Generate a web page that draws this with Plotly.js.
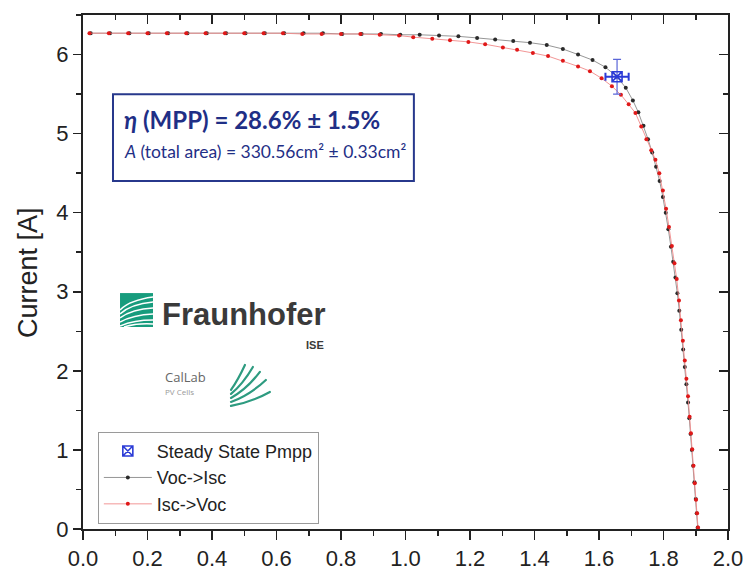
<!DOCTYPE html>
<html><head><meta charset="utf-8">
<script src="https://cdn.plot.ly/plotly-3.0.1.min.js"></script>
<style>html,body{margin:0;padding:0;background:#fff}#chart{width:749px;height:574px}</style>
</head><body><div id="chart"></div>
<script>
// Voc->Isc sweep (black)
const vocIscV = [0.024,0.084,0.144,0.204,0.264,0.324,0.384,0.444,0.504,0.564,0.624,0.684,0.744,0.804,0.864,0.924,0.984,1.044,1.104,1.164,1.222,1.278,1.334,1.386,1.438,1.488,1.535,1.580,1.620,1.655,1.683,1.705,1.722,1.738,1.752,1.765,1.777,1.788,1.798,1.807,1.815,1.823,1.830,1.837,1.843,1.849,1.855,1.861,1.866,1.871,1.876,1.880,1.884,1.888,1.892,1.896,1.900,1.903,1.906];
const vocIscI = [6.27,6.27,6.27,6.27,6.27,6.27,6.27,6.27,6.27,6.27,6.27,6.27,6.27,6.26,6.26,6.26,6.25,6.25,6.24,6.23,6.21,6.19,6.17,6.15,6.12,6.07,6.00,5.93,5.84,5.72,5.58,5.42,5.27,5.10,4.93,4.76,4.58,4.40,4.20,4.00,3.79,3.57,3.38,3.18,2.98,2.76,2.52,2.27,2.05,1.83,1.60,1.40,1.20,1.00,0.80,0.59,0.38,0.20,0.02];
// Isc->Voc sweep (red)
const iscVocV = [0.020,0.080,0.140,0.200,0.260,0.320,0.380,0.440,0.500,0.560,0.620,0.680,0.740,0.800,0.860,0.920,0.980,1.024,1.083,1.138,1.195,1.247,1.302,1.346,1.395,1.442,1.488,1.535,1.572,1.608,1.640,1.668,1.692,1.713,1.731,1.747,1.762,1.775,1.787,1.798,1.808,1.817,1.826,1.834,1.841,1.848,1.854,1.860,1.866,1.871,1.876,1.881,1.885,1.889,1.893,1.897,1.901,1.904,1.907];
const iscVocI = [6.27,6.27,6.27,6.27,6.27,6.27,6.27,6.27,6.27,6.27,6.27,6.26,6.26,6.26,6.26,6.25,6.24,6.22,6.20,6.18,6.16,6.13,6.09,6.06,6.02,5.98,5.92,5.85,5.79,5.70,5.60,5.49,5.37,5.26,5.09,4.93,4.79,4.67,4.50,4.28,4.05,3.82,3.58,3.36,3.16,2.89,2.64,2.38,2.13,1.90,1.68,1.42,1.21,1.01,0.80,0.58,0.37,0.20,0.02];
// Steady state MPP
const mppV = [1.656];
const mppI = [5.72];
const mppVerr = [0.036];
const mppIerr = [0.22];

const xTicks = [0,0.2,0.4,0.6,0.8,1.0,1.2,1.4,1.6,1.8,2.0];
const xTickText = ['0.0','0.2','0.4','0.6','0.8','1.0','1.2','1.4','1.6','1.8','2.0'];
const yTicks = [0,1,2,3,4,5,6];

const AF = 'Liberation Sans, Arial, sans-serif';

const traces = [
  {x: vocIscV, y: vocIscI, name: 'Voc->Isc', mode: 'lines+markers', legendrank: 2,
   line: {color: '#8a8a8a', width: 0.9}, marker: {color: '#2a2a2a', size: 4}},
  {x: iscVocV, y: iscVocI, name: 'Isc->Voc', mode: 'lines+markers', legendrank: 3,
   line: {color: '#f08a8a', width: 0.9}, marker: {color: '#e01818', size: 4}},
  {x: mppV, y: mppI, name: 'Steady State Pmpp', mode: 'markers', legendrank: 1,
   marker: {symbol: 'square-x-open', size: 10, color: '#2b3bd6', line: {width: 1.6, color: '#2b3bd6'}},
   error_x: {type: 'data', array: mppVerr, color: '#2b3bd6', thickness: 2, width: 4},
   error_y: {type: 'data', array: mppIerr, color: '#5a66d8', thickness: 1.2, width: 4}},
  {x: iscVocV, y: iscVocI, xaxis: 'x2', yaxis: 'y2', mode: 'markers', marker: {opacity: 0},
   showlegend: false, hoverinfo: 'skip'}
];

const fraunhoferIcon = "<svg xmlns='http://www.w3.org/2000/svg' viewBox='0 0 33 34'><rect width='33' height='34' fill='#179c7d'/><g fill='none' stroke='#fff' stroke-width='1.5'><path d='M0 33 Q14 27 33 27'/><path d='M0 29 Q13 22 33 21'/><path d='M0 25 Q12 16 33 15'/><path d='M0 21 Q11 11 33 9'/><path d='M0 17 Q10 7 33 4'/><path d='M4 34 Q17 30 33 31'/></g></svg>";
const calLabArcs = "<svg xmlns='http://www.w3.org/2000/svg' viewBox='0 0 44 46'><g fill='none' stroke='#2e9b80' stroke-width='2.2' stroke-linecap='round'><path d='M3 44 Q24 40 42 30'/><path d='M3 40 Q22 33 38 18'/><path d='M3 36 Q19 27 32 10'/><path d='M3 32 Q15 22 25 5'/><path d='M3 28 Q10 18 17 3'/></g></svg>";

const BOXC = '#27388c';
const TXTC = '#1f2f86';

const layout = {
  width: 749, height: 574,
  margin: {l: 83, r: 21, t: 15, b: 45},
  paper_bgcolor: '#fff', plot_bgcolor: '#fff',
  showlegend: true,
  legend: {x: 0.023, y: 0.189, xanchor: 'left', yanchor: 'top', bgcolor: '#fff',
    bordercolor: '#9a9a9a', borderwidth: 1, itemwidth: 48, tracegroupgap: 0,
    font: {family: AF, size: 18, color: '#222'}},
  xaxis: {range: [0, 2], tickvals: xTicks, ticktext: xTickText, ticks: 'outside', ticklen: 9, tickwidth: 1.5,
    tickcolor: '#222', showline: true, linewidth: 2, linecolor: '#222', mirror: true,
    showgrid: false, zeroline: false,
    minor: {dtick: 0.1, tick0: 0, ticks: 'outside', ticklen: 5, tickwidth: 1.5, tickcolor: '#222', showgrid: false},
    tickfont: {family: AF, size: 22, color: '#222'}},
  yaxis: {range: [0, 6.5], tickvals: yTicks, ticks: 'outside', ticklen: 8, tickwidth: 1.5,
    tickcolor: '#222', showline: true, linewidth: 2, linecolor: '#222', mirror: true,
    showgrid: false, zeroline: false,
    minor: {dtick: 0.5, tick0: 0, ticks: 'outside', ticklen: 5, tickwidth: 1.5, tickcolor: '#222', showgrid: false},
    tickfont: {family: AF, size: 22, color: '#222'}},
  xaxis2: {overlaying: 'x', side: 'top', anchor: 'y2', range: [0, 2], tickvals: xTicks, ticks: 'inside',
    ticklen: 9, tickwidth: 1.5, tickcolor: '#222', showticklabels: false, showgrid: false, zeroline: false,
    showline: false,
    minor: {dtick: 0.1, tick0: 0, ticks: 'inside', ticklen: 5, tickwidth: 1.5, tickcolor: '#222', showgrid: false}},
  yaxis2: {overlaying: 'y', side: 'right', anchor: 'x2', range: [0, 6.5], tickvals: yTicks, ticks: 'inside',
    ticklen: 9, tickwidth: 1.5, tickcolor: '#222', showticklabels: false, showgrid: false, zeroline: false,
    showline: false,
    minor: {dtick: 0.5, tick0: 0, ticks: 'inside', ticklen: 5, tickwidth: 1.5, tickcolor: '#222', showgrid: false}},
  shapes: [
    {type: 'rect', xref: 'paper', yref: 'paper', x0: 0.0465, x1: 0.513, y0: 0.677, y1: 0.846,
     line: {color: BOXC, width: 2}, fillcolor: 'rgba(255,255,255,0)', layer: 'above'}
  ],
  images: [
    {source: 'data:image/svg+xml;charset=utf-8,' + encodeURIComponent(fraunhoferIcon),
     xref: 'paper', yref: 'paper', x: 0.0574, y: 0.459, sizex: 0.0512, sizey: 0.066,
     xanchor: 'left', yanchor: 'top', sizing: 'stretch', layer: 'above'},
    {source: 'data:image/svg+xml;charset=utf-8,' + encodeURIComponent(calLabArcs),
     xref: 'paper', yref: 'paper', x: 0.2248, y: 0.325, sizex: 0.068, sizey: 0.0895,
     xanchor: 'left', yanchor: 'top', sizing: 'stretch', layer: 'above'}
  ],
  annotations: [
    {text: '<b><i>η</i> (MPP) = 28.6% ± 1.5%</b>',
     xref: 'paper', yref: 'paper', x: 0.0605, y: 0.797, xanchor: 'left', yanchor: 'middle',
     showarrow: false, align: 'left', font: {family: 'Lato, sans-serif', size: 24, color: TXTC}},
    {text: '<i>A</i> (total area) = 330.56cm² ± 0.33cm²',
     xref: 'paper', yref: 'paper', x: 0.0605, y: 0.735, xanchor: 'left', yanchor: 'middle',
     showarrow: false, align: 'left', font: {family: 'Lato, sans-serif', size: 17.5, color: TXTC}},
    {text: 'Current [A]', xref: 'paper', yref: 'paper', x: -0.0853, y: 0.5, textangle: -90,
     showarrow: false, xanchor: 'center', yanchor: 'middle',
     font: {family: AF, size: 27, color: '#222'}},
    {text: '<b>Fraunhofer</b>', xref: 'paper', yref: 'paper', x: 0.1194, y: 0.418,
     xanchor: 'left', yanchor: 'middle', showarrow: false,
     font: {family: AF, size: 31, color: '#3a3a3a'}},
    {text: '<b>ISE</b>', xref: 'paper', yref: 'paper', x: 0.36, y: 0.358,
     xanchor: 'center', yanchor: 'middle', showarrow: false,
     font: {family: AF, size: 11, color: '#3a3a3a'}},
    {text: 'CalLab', xref: 'paper', yref: 'paper', x: 0.124, y: 0.296,
     xanchor: 'left', yanchor: 'middle', showarrow: false,
     font: {family: 'Open Sans, sans-serif', size: 13, color: '#666'}},
    {text: 'PV Cells', xref: 'paper', yref: 'paper', x: 0.124, y: 0.268,
     xanchor: 'left', yanchor: 'middle', showarrow: false,
     font: {family: 'Open Sans, sans-serif', size: 8, color: '#999'}}
  ]
};

Plotly.newPlot('chart', traces, layout, {displayModeBar: false, staticPlot: true});
</script></body></html>
